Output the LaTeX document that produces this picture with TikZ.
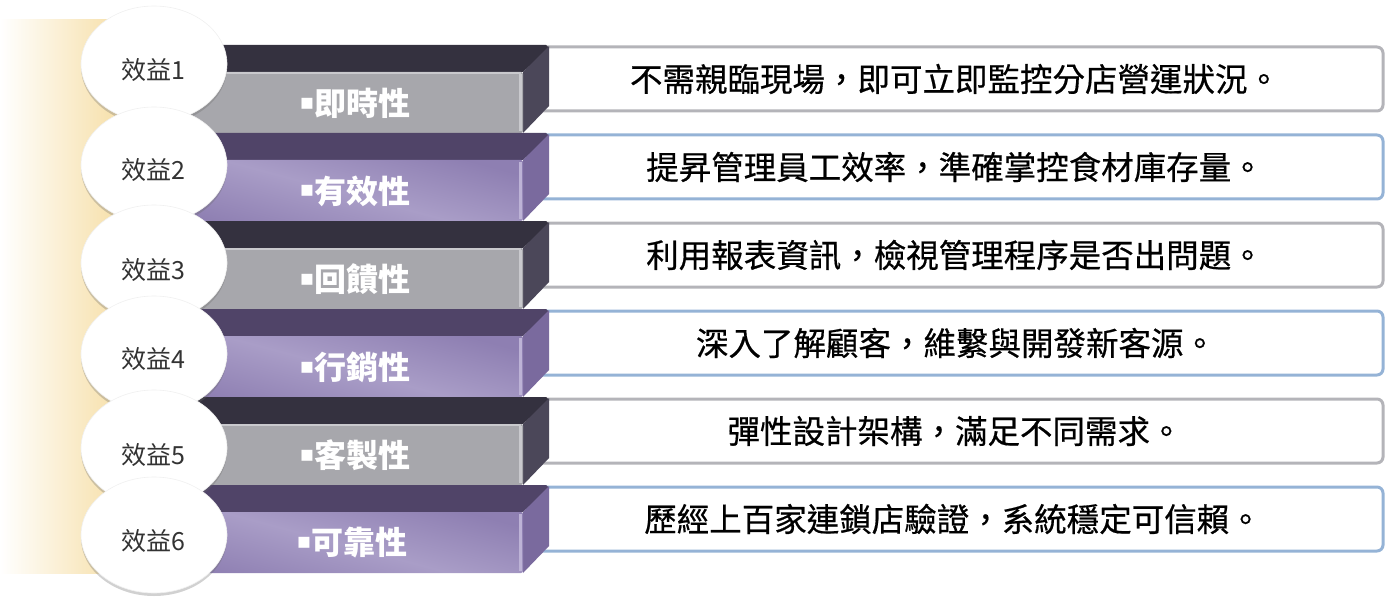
\documentclass[tikz,border=0pt]{standalone}
\usepackage{fontspec}
\newfontfamily\cjk{Noto Sans CJK TC}
\newfontfamily\cjkmed[FakeBold=0.5]{Noto Sans CJK TC}
\newfontfamily\dejavu{DejaVu Sans}
\usetikzlibrary{shadows,shapes.geometric}
\definecolor{grayTop}{HTML}{34313F}
\definecolor{grayFront}{HTML}{A7A7AC}
\definecolor{graySide}{HTML}{4B4759}
\definecolor{grayEdge}{HTML}{C9C9CD}
\definecolor{grayBorder}{HTML}{B4B4B9}
\definecolor{purpTop}{HTML}{504468}
\definecolor{purpFrontA}{HTML}{8E7FB2}
\definecolor{purpFrontB}{HTML}{A99DC7}
\definecolor{purpSide}{HTML}{7A6A9E}
\definecolor{purpEdge}{HTML}{BDB3D6}
\definecolor{blueBorder}{HTML}{95B3D6}
\definecolor{panelY}{HTML}{F7E2B0}
\definecolor{circText}{HTML}{333333}
\newcommand{\sqbullet}{{\dejavu\fontsize{22}{22}\selectfont\raisebox{0.28em}{▪}}}
\tikzset{
  infobox/.style={rounded corners=6pt, line width=3pt, fill=white},
  boxtext/.style={font=\cjkmed\fontsize{32.5}{32.5}\selectfont, text=black, anchor=center},
  bartext/.style={font=\cjk\bfseries\fontsize{32}{32}\selectfont, text=white, anchor=center},
  circ/.style={ellipse, fill=white, draw=black!6, line width=0.6pt, minimum width=146pt, minimum height=116pt, inner sep=0pt,
    drop shadow={shadow xshift=0pt, shadow yshift=-3pt, opacity=0.3, fill=black!60}},
  circlabel/.style={font=\cjk\fontsize{25}{25}\selectfont, text=circText},
}
\newcommand{\grayBar}[1]{%
  \fill[grayTop] (150,72+#1) -- (176,45+#1) -- (546,45+#1) -- (549,48+#1) -- (523,72+#1) -- cycle;
  \fill[graySide] (523,72+#1) -- (549,46+#1) -- (549,106+#1) -- (523,133+#1) -- cycle;
  \fill[grayFront, rounded corners=2pt] (150,72+#1) rectangle (523,133+#1);
  \fill[grayEdge] (519,74+#1) rectangle (522,131+#1);
  \fill[grayEdge] (150,72+#1) rectangle (521,74+#1);
}
\newcommand{\purpBar}[1]{%
  \fill[purpTop] (150,72+#1) -- (176,45+#1) -- (546,45+#1) -- (549,48+#1) -- (523,72+#1) -- cycle;
  \fill[purpSide] (523,72+#1) -- (549,46+#1) -- (549,106+#1) -- (523,133+#1) -- cycle;
  \shade[rounded corners=2pt, top color=purpFrontA, bottom color=purpFrontA, middle color=purpFrontB, shading angle=-15] (150,72+#1) rectangle (523,133+#1);
  \fill[purpEdge] (519,74+#1) rectangle (522,131+#1);
}
\begin{document}
\begin{tikzpicture}[x=1pt, y=-1pt]
\useasboundingbox (0,0) rectangle (1386,604);
% background panel
\shade[left color=white, right color=panelY] (0,20) rectangle (110,573);
\fill[panelY] (109.5,20) rectangle (160,573);
% text boxes
\foreach \i/\c in {0/grayBorder,1/blueBorder,2/grayBorder,3/blueBorder,4/grayBorder,5/blueBorder}{
  \draw[infobox, draw=\c] (530,47+88*\i) rectangle (1383,111+88*\i);
}
\node[boxtext] (t1) at (955,79) {不需親臨現場，即可立即監控分店營運狀況。};
\node[boxtext] (t2) at (955,167) {提昇管理員工效率，準確掌控食材庫存量。};
\node[boxtext] (t3) at (955,255) {利用報表資訊，檢視管理程序是否出問題。};
\node[boxtext] (t4) at (956,343) {深入了解顧客，維繫與開發新客源。};
\node[boxtext] (t5) at (955,431) {彈性設計架構，滿足不同需求。};
\node[boxtext] (t6) at (953,519) {歷經上百家連鎖店驗證，系統穩定可信賴。};
% bars
\grayBar{0}
\purpBar{88}
\grayBar{176}
\purpBar{264}
\grayBar{352}
\purpBar{440}
\node[bartext] (b1) at (355,103) {\sqbullet 即時性};
\node[bartext] (b2) at (355,191) {\sqbullet 有效性};
\node[bartext] (b3) at (355,279) {\sqbullet 回饋性};
\node[bartext] (b4) at (355,367) {\sqbullet 行銷性};
\node[bartext] (b5) at (355,455) {\sqbullet 客製性};
\node[bartext] (b6) at (352,543) {\sqbullet 可靠性};
% circles
\node[circ] (c1) at (154,64) {};
\node[circ] (c2) at (154,165) {};
\node[circ] (c3) at (154,263) {};
\node[circ] (c4) at (154,354) {};
\node[circ] (c5) at (154,448) {};
\node[circ] (c6) at (154,535) {};
\node[circlabel] (l1) at (153,70) {效益1};
\node[circlabel] (l2) at (153,170) {效益2};
\node[circlabel] (l3) at (153,270) {效益3};
\node[circlabel] (l4) at (153,359) {效益4};
\node[circlabel] (l5) at (153,455) {效益5};
\node[circlabel] (l6) at (153,541) {效益6};
\end{tikzpicture}
\end{document}
